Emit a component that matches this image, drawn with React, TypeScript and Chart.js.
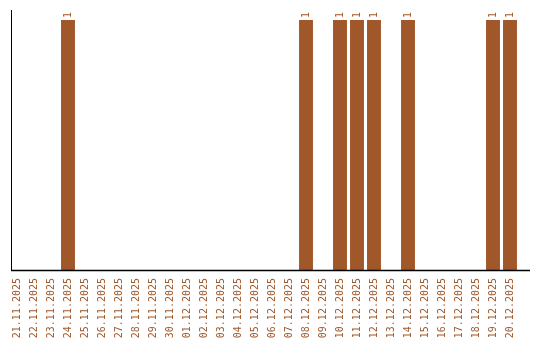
import React, { useEffect, useRef } from "react";
import { Chart, registerables } from "chart.js";

Chart.register(...registerables);

const categories = [
  "21.11.2025", "22.11.2025", "23.11.2025", "24.11.2025", "25.11.2025",
  "26.11.2025", "27.11.2025", "28.11.2025", "29.11.2025", "30.11.2025",
  "01.12.2025", "02.12.2025", "03.12.2025", "04.12.2025", "05.12.2025",
  "06.12.2025", "07.12.2025", "08.12.2025", "09.12.2025", "10.12.2025",
  "11.12.2025", "12.12.2025", "13.12.2025", "14.12.2025", "15.12.2025",
  "16.12.2025", "17.12.2025", "18.12.2025", "19.12.2025", "20.12.2025",
];

const values = [
  0, 0, 0, 1, 0,
  0, 0, 0, 0, 0,
  0, 0, 0, 0, 0,
  0, 0, 1, 0, 1,
  1, 1, 0, 1, 0,
  0, 0, 0, 1, 1,
];

const BAR_COLOR = "#A0582A";
const FONT = "'DejaVu Sans Mono', monospace";

const valueLabels = {
  id: "valueLabels",
  afterDatasetsDraw(chart: any) {
    const ctx = chart.ctx;
    const meta = chart.getDatasetMeta(0);
    ctx.save();
    ctx.fillStyle = BAR_COLOR;
    ctx.font = `10px ${FONT}`;
    ctx.textAlign = "left";
    ctx.textBaseline = "middle";
    meta.data.forEach((bar: any, i: number) => {
      const v = values[i];
      if (!v) return;
      ctx.save();
      ctx.translate(bar.x, bar.y - 2);
      ctx.rotate(-Math.PI / 2);
      ctx.fillText(String(v), 0, 0);
      ctx.restore();
    });
    ctx.restore();
  },
};

// axis lines: y axis slightly inside the first category, x axis extended to the right
const axisLines = {
  id: "axisLines",
  afterDatasetsDraw(chart: any) {
    const { ctx, chartArea } = chart;
    ctx.save();
    ctx.strokeStyle = "#000";
    ctx.lineWidth = 1;
    ctx.beginPath();
    ctx.moveTo(11.5, chartArea.top);
    ctx.lineTo(11.5, chartArea.bottom);
    ctx.stroke();
    ctx.lineWidth = 1.5;
    ctx.beginPath();
    ctx.moveTo(11, chartArea.bottom + 0.5);
    ctx.lineTo(530, chartArea.bottom + 0.5);
    ctx.stroke();
    ctx.restore();
  },
};

export default function App() {
  const ref = useRef<HTMLCanvasElement>(null);

  useEffect(() => {
    document.body.style.margin = "0";
    const chart = new Chart(ref.current as HTMLCanvasElement, {
      type: "bar",
      data: {
        labels: categories,
        datasets: [
          {
            data: values,
            backgroundColor: BAR_COLOR,
            borderWidth: 0,
            categoryPercentage: 1,
            barPercentage: 0.82,
          },
        ],
      },
      options: {
        responsive: false,
        animation: false,
        layout: { padding: { left: 8.5, top: 10, right: 21.5, bottom: 0 } },
        plugins: {
          legend: { display: false },
          tooltip: { enabled: false },
        },
        scales: {
          x: {
            grid: { display: false, drawTicks: false },
            border: { display: false },
            afterFit: (scale: any) => {
              scale.height = 70;
            },
            ticks: {
              autoSkip: false,
              maxRotation: 90,
              minRotation: 90,
              padding: 8,
              color: BAR_COLOR,
              font: { family: FONT, size: 10 },
            },
          },
          y: {
            display: false,
            min: 0,
            max: 1.04,
          },
        },
      },
      plugins: [valueLabels, axisLines],
    });
    return () => chart.destroy();
  }, []);

  return (
    <div style={{ width: 540, height: 340 }}>
      <canvas ref={ref} width={540} height={340} />
    </div>
  );
}
